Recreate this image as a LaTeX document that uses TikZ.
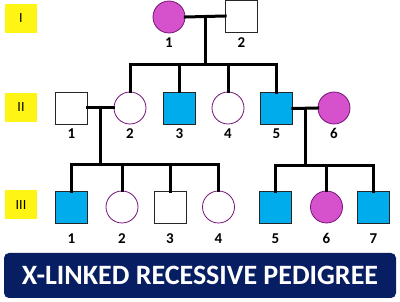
\documentclass[tikz,border=0pt]{standalone}
\usepackage{fontspec}
\setmainfont{Carlito}
\usetikzlibrary{calc, positioning}
\definecolor{affblue}{RGB}{0,172,236}
\definecolor{affpink}{RGB}{214,82,204}
\definecolor{ringpurple}{RGB}{120,20,120}
\definecolor{gennavy}{RGB}{8,30,98}
\definecolor{genyellow}{RGB}{255,245,20}
\tikzset{
  male/.style={rectangle, draw=black!85, line width=0.8pt, minimum size=32pt, inner sep=0pt},
  female/.style={circle, draw=ringpurple, line width=0.8pt, minimum size=32pt, inner sep=0pt},
  aff/.style={fill=#1},
  idlabel/.style={font=\fontsize{15}{15}\selectfont\bfseries, inner sep=0pt},
  genlabel/.style={rectangle, fill=genyellow, minimum width=32pt, minimum height=29pt, inner sep=0pt, font=\fontsize{14}{14}\selectfont},
  link/.style={line width=3pt, line cap=rect},
}
\begin{document}
\begin{tikzpicture}[x=1pt, y=-1pt]
  \useasboundingbox (0,0) rectangle (400,302);
  % generation markers
  \node[genlabel] (gI) at (21,18.5) {I};
  \node[genlabel] (gII) at (21,107.5) {II};
  \node[genlabel] (gIII) at (21,205) {III};

  % generation I
  \node[female, aff=affpink] (i1) at (169,17) {};
  \node[male, fill=white] (i2) at (241.5,16) {};
  % generation II
  \node[male, fill=white] (ii1) at (71.5,108) {};
  \node[female, fill=white] (ii2) at (130,108) {};
  \node[male, aff=affblue] (ii3) at (179.5,108) {};
  \node[female, fill=white] (ii4) at (228,108) {};
  \node[male, aff=affblue] (ii5) at (276.5,108.5) {};
  \node[female, aff=affpink] (ii6) at (334,108) {};
  % generation III
  \node[male, aff=affblue] (iii1) at (71.5,207.5) {};
  \node[female, fill=white] (iii2) at (122,207) {};
  \node[male, fill=white] (iii3) at (170,207.5) {};
  \node[female, fill=white] (iii4) at (218.5,207) {};
  \node[male, aff=affblue] (iii5) at (275.5,207.5) {};
  \node[female, aff=affpink] (iii6) at (326.5,207) {};
  \node[male, aff=affblue] (iii7) at (373.5,207.5) {};

  % numbers
  \node[idlabel, below=4.5pt of i1] {1};
  \node[idlabel, below=5.5pt of i2] {2};
  \foreach \p/\t in {ii1/1, ii2/2, ii3/3, ii4/4, ii5/5, ii6/6}
    \node[idlabel, below=4pt of \p] {\t};
  \foreach \p/\t in {iii1/1, iii2/2, iii3/3, iii4/4, iii5/5, iii6/6, iii7/7}
    \node[idlabel, below=10pt of \p] {\t};

  % matings and descent lines
  \coordinate (mI) at ($(i1.east)!0.5!(i2.west)$);
  \coordinate (sI) at ($(mI)+(0,48)$);
  \coordinate (mIIa) at ($(ii1.east)!0.5!(ii2.west)$);
  \coordinate (sIIa) at ($(mIIa)+(0,57)$);
  \coordinate (mIIb) at ($(ii5.east)!0.5!(ii6.west)$);
  \coordinate (sIIb) at ($(mIIb)+(0,57)$);

  \draw[link] (i1.east) -- (i2.west);
  \draw[link] (mI) -- (sI);
  \foreach \c in {ii2, ii3, ii4, ii5}
    \draw[link] (sI) -| (\c.north);

  \draw[link] (ii1.east) -- (ii2.west);
  \draw[link] (mIIa) -- (sIIa);
  \foreach \c in {iii1, iii2, iii3, iii4}
    \draw[link] (sIIa) -| (\c.north);

  \draw[link] (ii5.east) -- (ii6.west);
  \draw[link] (mIIb) -- (sIIb);
  \foreach \c in {iii5, iii6, iii7}
    \draw[link] (sIIb) -| (\c.north);

  % title banner
  \node[rectangle, rounded corners=5pt, fill=gennavy, minimum width=392pt, minimum height=45pt,
        text=white, font=\fontsize{28}{28}\selectfont\bfseries] (banner) at (200,275.5) {X-LINKED RECESSIVE PEDIGREE};
\end{tikzpicture}
\end{document}
